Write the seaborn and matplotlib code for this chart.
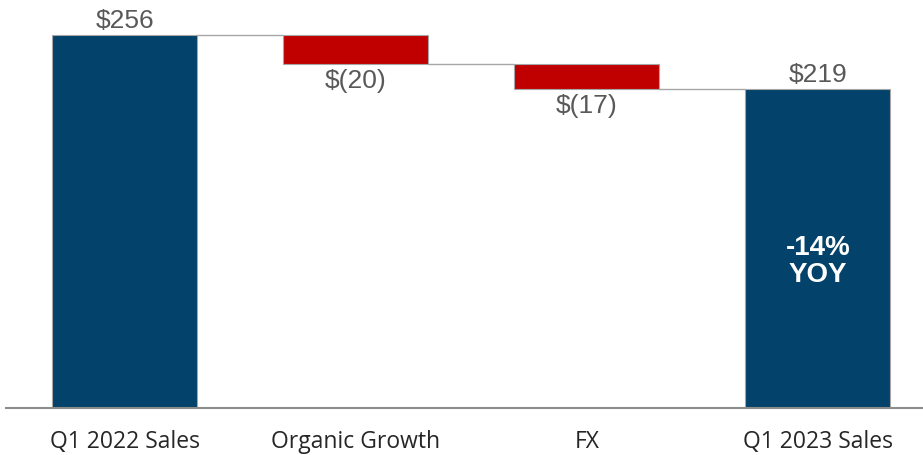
import matplotlib
matplotlib.use("Agg")
import matplotlib.pyplot as plt
import seaborn as sns
import pandas as pd
import numpy as np

categories = ["Q1 2022 Sales", "Organic Growth", "FX", "Q1 2023 Sales"]
values = [256, -20, -17, 219]
kinds = ["total", "delta", "delta", "total"]
value_labels = ["$256", "$(20)", "$(17)", "$219"]
note = "-14%\nYOY"

NAVY = "#03426A"
RED = "#C00000"
GRAY_TXT = "#595959"

# compute waterfall bottoms / tops
bottoms, heights = [], []
running = 0
for v, k in zip(values, kinds):
    if k == "total":
        bottoms.append(0)
        heights.append(v)
        running = v
    else:
        new = running + v
        bottoms.append(min(running, new))
        heights.append(abs(v))
        running = new
tops = [b + h for b, h in zip(bottoms, heights)]

df = pd.DataFrame({"cat": categories, "h": heights})
colors = [NAVY if k == "total" else RED for k in kinds]

sns.set_theme(style="white")
plt.rcParams["font.family"] = ["Liberation Sans", "DejaVu Sans"]

fig = plt.figure(figsize=(9.23, 4.55), dpi=100)
ax = fig.add_axes([0.006, 47 / 455, 0.994, 408 / 455])

sns.barplot(data=df, x="cat", y="h", hue="cat", palette=colors, legend=False,
            width=0.628, ax=ax, saturation=1, edgecolor="#A6A6A6", linewidth=0.8)

for p, b in zip(ax.patches, bottoms):
    p.set_y(b)

# connectors
pts = list(ax.patches)
levels = []
running = 0
for v, k in zip(values, kinds):
    running = v if k == "total" else running + v
    levels.append(running)
for i in range(len(pts) - 1):
    x0 = pts[i].get_x() + pts[i].get_width()
    x1 = pts[i + 1].get_x()
    ax.plot([x0, x1], [levels[i], levels[i]], color="#A6A6A6", lw=1.0, zorder=1)

ax.set_ylim(0, 280)
ax.set_xlim(-0.517, 3.455)

# value labels
for i, (lab, k, v) in enumerate(zip(value_labels, kinds, values)):
    if k == "total":
        ax.text(i, tops[i] + 1.5, lab, ha="center", va="bottom", fontsize=19, color=GRAY_TXT)
    else:
        ax.text(i, bottoms[i] - 3.5, lab, ha="center", va="top", fontsize=19, color=GRAY_TXT)

ax.text(3, 100.5, note, ha="center", va="center", fontsize=20, fontweight="bold",
        color="white", linespacing=1.05)

ax.set_xlabel("")
ax.set_ylabel("")
ax.set_yticks([])
ax.tick_params(axis="x", length=0, pad=16)
for t in ax.get_xticklabels():
    t.set_fontfamily(["Open Sans", "DejaVu Sans"])
    t.set_fontsize(16.5)
    t.set_color("#262626")
for s in ["top", "right", "left"]:
    ax.spines[s].set_visible(False)
ax.spines["bottom"].set_color("#8C8C8C")
ax.spines["bottom"].set_linewidth(1.5)

fig.savefig("out.png", dpi=100)
